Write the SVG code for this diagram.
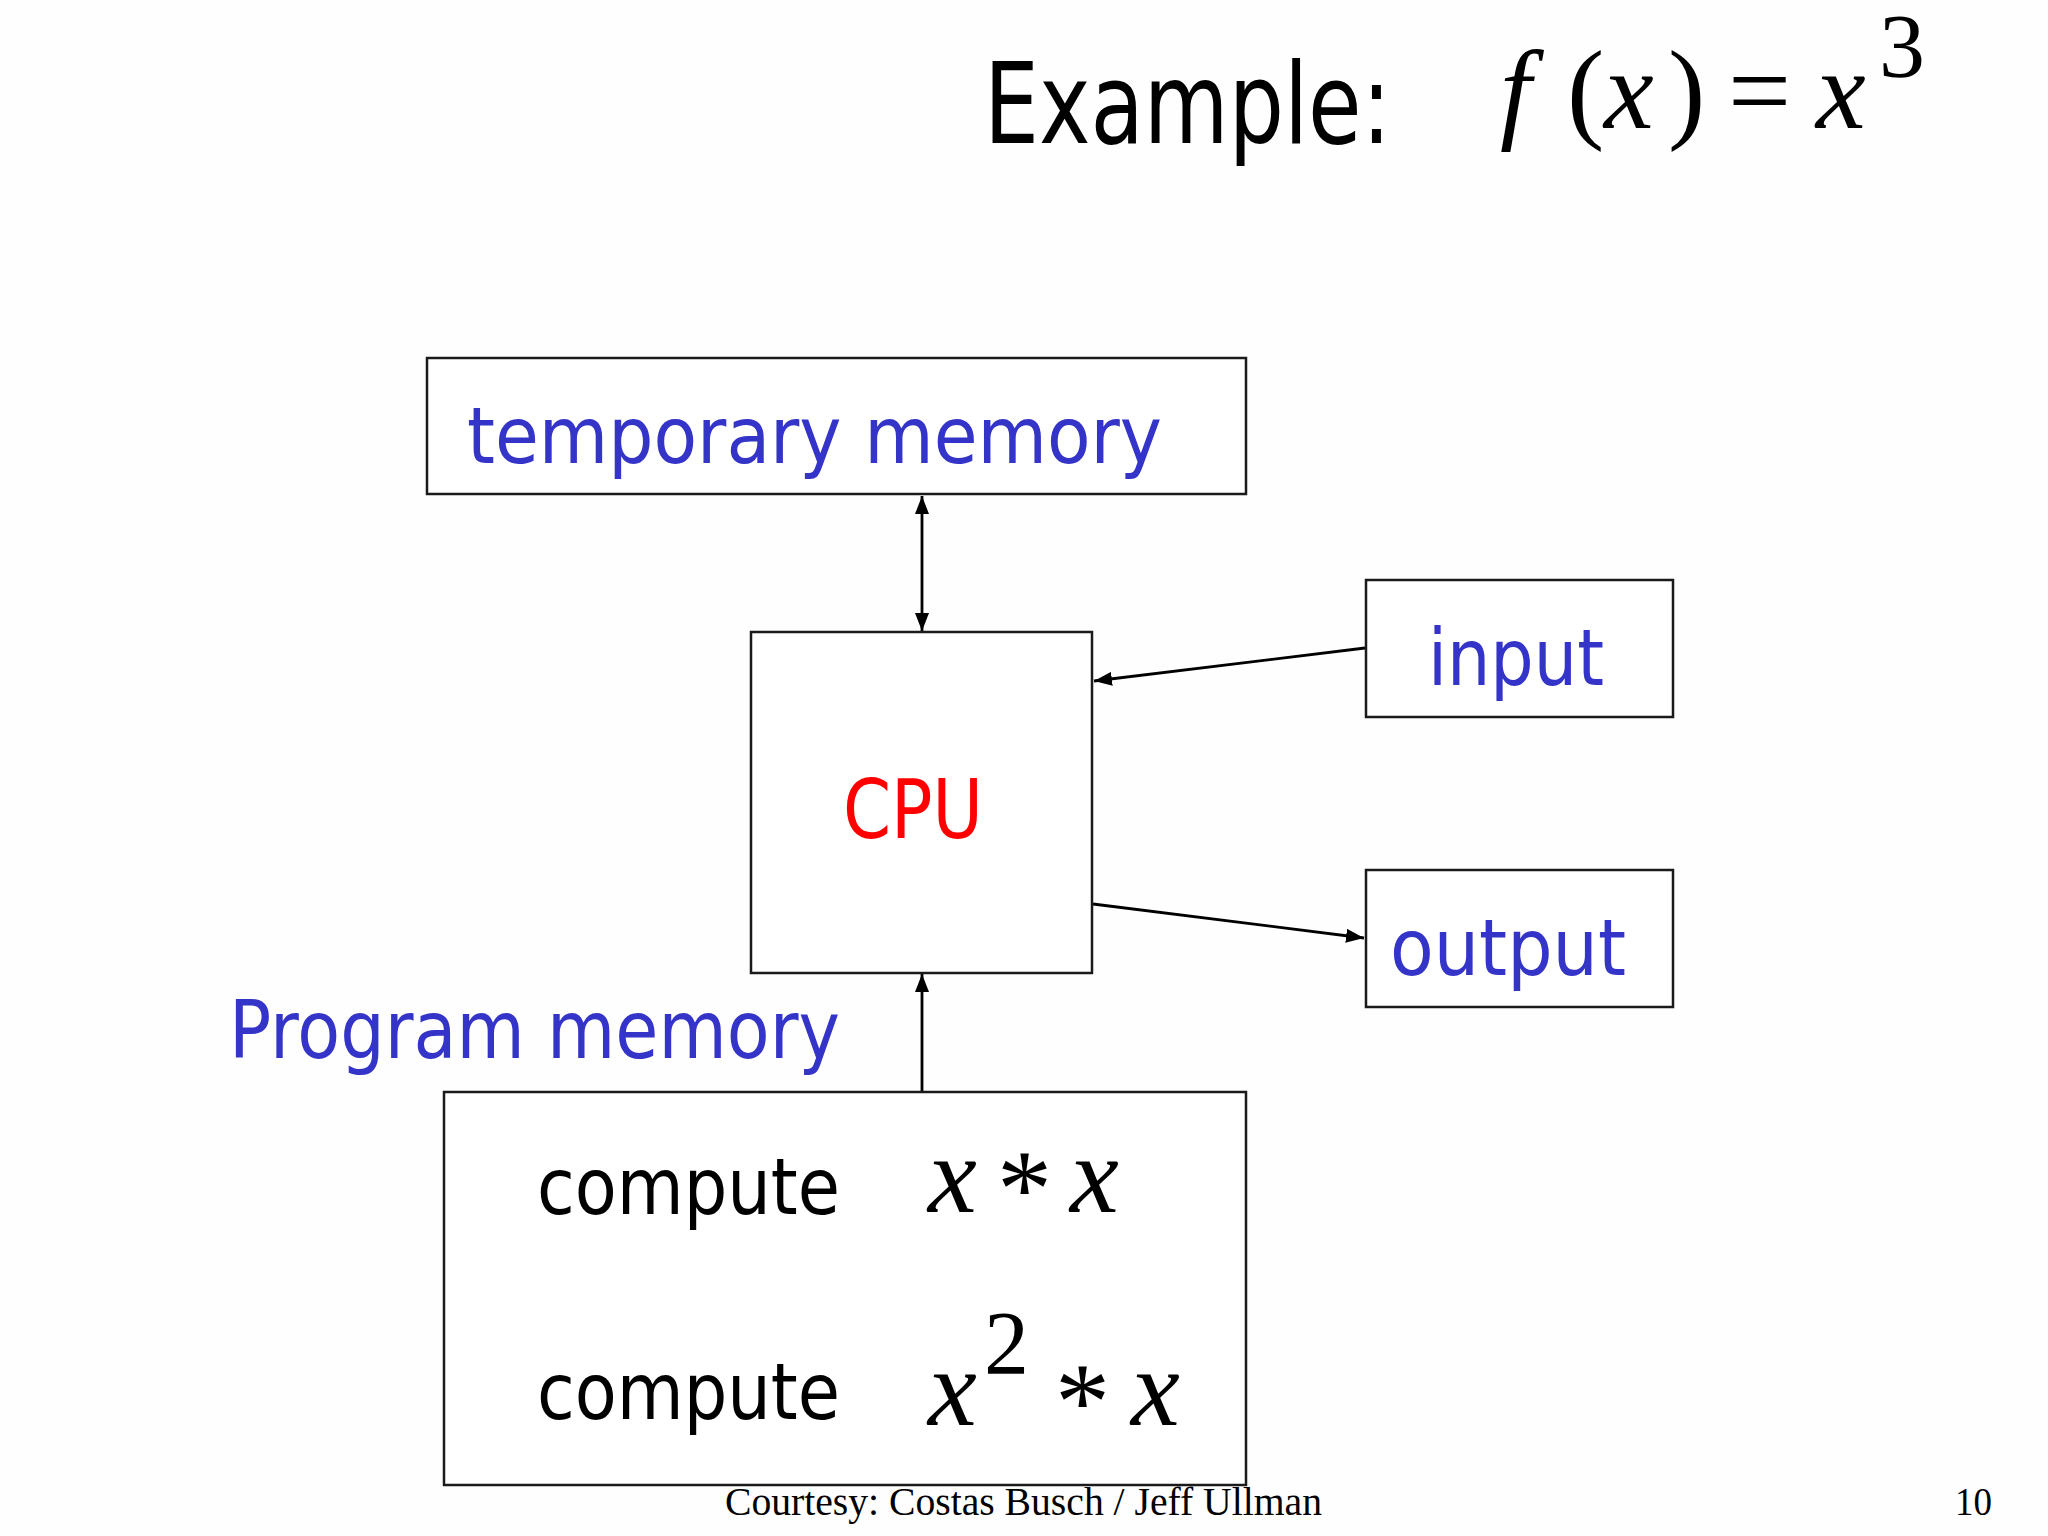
<svg xmlns="http://www.w3.org/2000/svg" width="2048" height="1536" viewBox="0 0 2048 1536">
<style>
.box{fill:#ffffff;stroke:#1a1a1a;stroke-width:2.5}
.comic{font-family:"Comic Sans MS","DejaVu Sans",sans-serif}
.blue{fill:#3434c8}
.blk{fill:#000}
.math{font-family:"Liberation Serif","Times New Roman",serif;fill:#000}
.it{font-style:italic}
.conn{stroke:#000;stroke-width:2.8;fill:none}
.foot{font-family:"Liberation Serif","Times New Roman",serif;fill:#000;font-size:40px}
</style>
<defs>
<marker id="ah" viewBox="0 0 18 14" refX="18" refY="7" markerWidth="18" markerHeight="14" markerUnits="userSpaceOnUse" orient="auto-start-reverse">
<path d="M0,0 L18,7 L0,14 Z" fill="#000"/>
</marker>
</defs>
<rect width="2048" height="1536" fill="#fefefe"/>

<g id="title">
<text class="comic blk" x="984" y="143" font-size="112" textLength="407" lengthAdjust="spacingAndGlyphs">Example:</text>
<text class="math it" x="1500" y="128" font-size="112">f</text>
<text class="math" x="1567" y="128" font-size="112">(</text>
<text class="math it" x="1604" y="128" font-size="112">x</text>
<text class="math" x="1668" y="128" font-size="112">)</text>
<text class="math" x="1728" y="128" font-size="112">=</text>
<text class="math it" x="1816" y="128" font-size="112">x</text>
<text class="math" x="1879" y="77" font-size="92">3</text>
</g>

<g id="connectors">
<line class="conn" x1="922" y1="496" x2="922" y2="631" marker-start="url(#ah)" marker-end="url(#ah)"/>
<line class="conn" x1="1365" y1="648" x2="1094" y2="681" marker-end="url(#ah)"/>
<line class="conn" x1="1093" y1="904" x2="1364" y2="938" marker-end="url(#ah)"/>
<line class="conn" x1="922" y1="1092" x2="922" y2="974" marker-end="url(#ah)"/>
</g>

<g id="temporary-memory">
<rect class="box" x="427" y="358" width="819" height="136"/>
<text class="comic blue" x="467" y="463" font-size="78" textLength="695" lengthAdjust="spacingAndGlyphs">temporary memory</text>
</g>

<g id="cpu">
<rect class="box" x="751" y="632" width="341" height="341"/>
<text class="comic" fill="#ff0000" x="843" y="838" font-size="82" textLength="140" lengthAdjust="spacingAndGlyphs">CPU</text>
</g>

<g id="input">
<rect class="box" x="1366" y="580" width="307" height="137"/>
<text class="comic blue" x="1428" y="685" font-size="78" textLength="176" lengthAdjust="spacingAndGlyphs">input</text>
</g>

<g id="output">
<rect class="box" x="1366" y="870" width="307" height="137"/>
<text class="comic blue" x="1390" y="975" font-size="78" textLength="236" lengthAdjust="spacingAndGlyphs">output</text>
</g>

<g id="program-memory-label">
<text class="comic blue" x="229" y="1058" font-size="80" textLength="611" lengthAdjust="spacingAndGlyphs">Program memory</text>
</g>

<g id="program-memory">
<rect class="box" x="444" y="1092" width="802" height="393"/>
<text class="comic blk" x="537" y="1214" font-size="78" textLength="303" lengthAdjust="spacingAndGlyphs">compute</text>
<text class="math it" x="928" y="1212" font-size="110">x</text>
<text class="math" x="997" y="1226" font-size="110">*</text>
<text class="math it" x="1070" y="1212" font-size="110">x</text>
<text class="comic blk" x="537" y="1419" font-size="78" textLength="303" lengthAdjust="spacingAndGlyphs">compute</text>
<text class="math it" x="928" y="1425" font-size="110">x</text>
<text class="math" x="984" y="1374" font-size="90">2</text>
<text class="math" x="1055" y="1439" font-size="110">*</text>
<text class="math it" x="1131" y="1425" font-size="110">x</text>
</g>

<g id="footer">
<text class="foot" x="725" y="1515" textLength="597" lengthAdjust="spacingAndGlyphs">Courtesy: Costas Busch / Jeff Ullman</text>
<text class="foot" x="1955" y="1515" textLength="37" lengthAdjust="spacingAndGlyphs">10</text>
</g>
</svg>
